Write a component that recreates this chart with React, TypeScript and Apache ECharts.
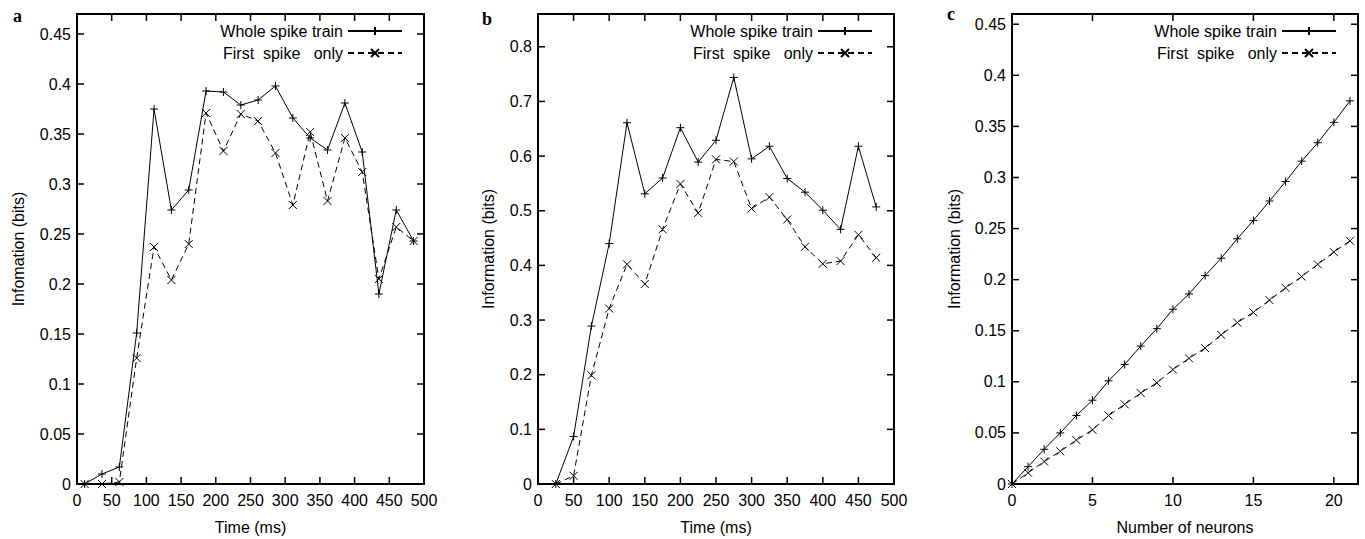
import React, { useEffect, useRef } from "react";
import * as echarts from "echarts";

// ---- data ----
const timeA = [11, 36, 61, 86, 111, 136, 161, 186, 211, 236, 261, 286, 311, 336, 361, 386, 411, 435, 460, 485];
const wholeA = [0, 0.01, 0.017, 0.151, 0.375, 0.274, 0.294, 0.393, 0.392, 0.379, 0.384, 0.398, 0.366, 0.346, 0.334, 0.381, 0.332, 0.19, 0.274, 0.243];
const firstA = [0, 0, 0.002, 0.126, 0.237, 0.204, 0.24, 0.371, 0.333, 0.37, 0.363, 0.331, 0.279, 0.352, 0.283, 0.346, 0.312, 0.205, 0.257, 0.243];

const timeB = [25, 50, 75, 100, 125, 150, 175, 200, 225, 250, 275, 300, 325, 350, 375, 400, 425, 450, 475];
const wholeB = [0, 0.087, 0.289, 0.44, 0.661, 0.531, 0.56, 0.652, 0.589, 0.629, 0.744, 0.595, 0.618, 0.559, 0.534, 0.501, 0.466, 0.618, 0.507];
const firstB = [0, 0.015, 0.199, 0.321, 0.402, 0.366, 0.466, 0.549, 0.496, 0.594, 0.59, 0.504, 0.525, 0.484, 0.434, 0.403, 0.408, 0.456, 0.414];

const neurons = [0, 1, 2, 3, 4, 5, 6, 7, 8, 9, 10, 11, 12, 13, 14, 15, 16, 17, 18, 19, 20, 21];
const wholeC = [0, 0.017, 0.034, 0.05, 0.067, 0.082, 0.101, 0.117, 0.135, 0.152, 0.171, 0.186, 0.204, 0.221, 0.24, 0.258, 0.277, 0.296, 0.316, 0.334, 0.354, 0.375];
const firstC = [0, 0.011, 0.022, 0.032, 0.043, 0.053, 0.067, 0.078, 0.089, 0.099, 0.112, 0.123, 0.133, 0.146, 0.158, 0.168, 0.18, 0.192, 0.203, 0.215, 0.227, 0.238];

// tick values
const timeTicks = [0, 50, 100, 150, 200, 250, 300, 350, 400, 450, 500];
const neuronTicks = [0, 5, 10, 15, 20];
const infoTicksA = [0, 0.05, 0.1, 0.15, 0.2, 0.25, 0.3, 0.35, 0.4, 0.45];
const infoTicksB = [0, 0.1, 0.2, 0.3, 0.4, 0.5, 0.6, 0.7, 0.8];
const infoTicksC = [0, 0.05, 0.1, 0.15, 0.2, 0.25, 0.3, 0.35, 0.4, 0.45];

const seriesNames = ["Whole spike train", "First  spike   only"];
const panelLetters = ["a", "b", "c"];
const xTitles = ["Time (ms)", "Time (ms)", "Number of neurons"];
const yTitles = ["Infomation (bits)", "Information (bits)", "Information (bits)"];

const FONT = "Liberation Sans, Arial, Helvetica, sans-serif";
const FS = 16;
const PLUS = "path://M5,0L5,10M0,5L10,5";
const CROSS = "path://M0,0L10,10M10,0L0,10";
const TICK_LEN = 7;

const zip = (xs: number[], ys: number[]) => xs.map((x, i) => [x, ys[i]]);
const fmtOn = (iv: number) => (v: number) =>
  Math.abs(v / iv - Math.round(v / iv)) > 1e-6 ? "" : String(+v.toFixed(2));

export default function App() {
  const ref = useRef<HTMLDivElement>(null);

  useEffect(() => {
    if (!ref.current) return;
    const chart = echarts.init(ref.current, null, { renderer: "svg" });

    const panels = [
      { grid: { left: 77, top: 14, width: 347, height: 470 }, x: { min: 0, max: 500, interval: 50 }, y: { min: 0, max: 0.47, interval: 0.05 }, xt: timeTicks, yt: infoTicksA, xs: [timeA, timeA], ys: [wholeA, firstA], yTitleX: 18, legendRight: 962, letter: { x: 13, y: 22 } },
      { grid: { left: 538, top: 14, width: 356, height: 470 }, x: { min: 0, max: 500, interval: 50 }, y: { min: 0, max: 0.86, interval: 0.1 }, xt: timeTicks, yt: infoTicksB, xs: [timeB, timeB], ys: [wholeB, firstB], yTitleX: 488, legendRight: 492, letter: { x: 482, y: 25 } },
      { grid: { left: 1012, top: 14, width: 346, height: 470 }, x: { min: 0, max: 21.5, interval: 5 }, y: { min: 0, max: 0.46, interval: 0.05 }, xt: neuronTicks, yt: infoTicksC, xs: [neurons, neurons], ys: [wholeC, firstC], yTitleX: 954, legendRight: 28, letter: { x: 947, y: 20 } },
    ];

    const grid: any[] = [];
    const xAxis: any[] = [];
    const yAxis: any[] = [];
    const series: any[] = [];
    const legend: any[] = [];
    const graphic: any[] = [];

    panels.forEach((p, i) => {
      const mkLabel = () => ({ color: "#000", fontSize: FS, fontFamily: FONT });
      grid.push({ ...p.grid, show: true, borderColor: "#000", borderWidth: 2, backgroundColor: "transparent" });
      xAxis.push({
        gridIndex: i, type: "value", min: p.x.min, max: p.x.max, interval: p.x.interval,
        axisLine: { show: false }, axisTick: { show: false }, splitLine: { show: false },
        axisLabel: { ...mkLabel(), margin: 8, formatter: fmtOn(p.x.interval) },
      });
      yAxis.push({
        gridIndex: i, type: "value", min: p.y.min, max: p.y.max, interval: p.y.interval,
        axisLine: { show: false }, axisTick: { show: false }, splitLine: { show: false },
        axisLabel: { ...mkLabel(), margin: 6, formatter: fmtOn(p.y.interval) },
      });
      [0, 1].forEach((s) => {
        series.push({
          type: "line",
          name: seriesNames[s],
          xAxisIndex: i,
          yAxisIndex: i,
          data: zip(p.xs[s], p.ys[s]),
          symbol: s === 0 ? PLUS : CROSS,
          symbolSize: 8,
          showAllSymbol: true,
          lineStyle: { color: "#000", width: 1, type: s === 0 ? "solid" : [6, 4] },
          itemStyle: { color: "#000", borderColor: "#000", borderWidth: 1 },
          emphasis: { disabled: true },
          silent: true,
        });
      });
      const tickStyle = { stroke: "#000", lineWidth: 1.5 };
      const yMin = p.y.min, yMax = p.y.max, xMin = p.x.min, xMax = p.x.max;
      // x-axis ticks (bottom and mirrored top), placed through the axis scales
      series.push({
        type: "custom", xAxisIndex: i, yAxisIndex: i, silent: true, z: 5, clip: false,
        data: p.xt.map((v) => [v, yMin]),
        renderItem: (params: any, api: any) => {
          const v = api.value(0);
          const a = api.coord([v, yMin]);
          const b = api.coord([v, yMax]);
          return {
            type: "group",
            children: [
              { type: "line", shape: { x1: a[0], y1: a[1], x2: a[0], y2: a[1] - TICK_LEN }, style: tickStyle },
              { type: "line", shape: { x1: b[0], y1: b[1], x2: b[0], y2: b[1] + TICK_LEN }, style: tickStyle },
            ],
          };
        },
      });
      // y-axis ticks (left and mirrored right)
      series.push({
        type: "custom", xAxisIndex: i, yAxisIndex: i, silent: true, z: 5, clip: false,
        data: p.yt.map((v) => [xMin, v]),
        renderItem: (params: any, api: any) => {
          const v = api.value(1);
          const a = api.coord([xMin, v]);
          const b = api.coord([xMax, v]);
          return {
            type: "group",
            children: [
              { type: "line", shape: { x1: a[0], y1: a[1], x2: a[0] + TICK_LEN, y2: a[1] }, style: tickStyle },
              { type: "line", shape: { x1: b[0], y1: b[1], x2: b[0] - TICK_LEN, y2: b[1] }, style: tickStyle },
            ],
          };
        },
      });
      legend.push({
        orient: "vertical", right: p.legendRight, top: 23, align: "right",
        itemWidth: 54, itemHeight: 10, itemGap: 6, padding: 0,
        selectedMode: false,
        textStyle: mkLabel(),
        data: seriesNames.slice(),
      });
      const cx = p.grid.left + p.grid.width / 2;
      const cy = p.grid.top + p.grid.height / 2;
      graphic.push({
        type: "text", x: p.letter.x, y: p.letter.y - 15,
        style: { text: panelLetters[i], fill: "#000", fontSize: 18, fontWeight: "bold", fontFamily: "Liberation Serif, Times New Roman, serif" },
      });
      graphic.push({
        type: "text", x: cx, y: 519,
        style: { text: xTitles[i], fill: "#000", fontSize: FS, fontFamily: FONT, align: "center", verticalAlign: "top" },
      });
      graphic.push({
        type: "text", x: p.yTitleX, y: cy, rotation: Math.PI / 2,
        style: { text: yTitles[i], fill: "#000", fontSize: FS, fontFamily: FONT, align: "center", verticalAlign: "middle" },
      });
    });

    chart.setOption({
      animation: false,
      backgroundColor: "#fff",
      grid, xAxis, yAxis, series, legend, graphic,
    });

    return () => chart.dispose();
  }, []);

  return <div ref={ref} style={{ position: "absolute", left: 0, top: 0, width: 1365, height: 539 }} />;
}
